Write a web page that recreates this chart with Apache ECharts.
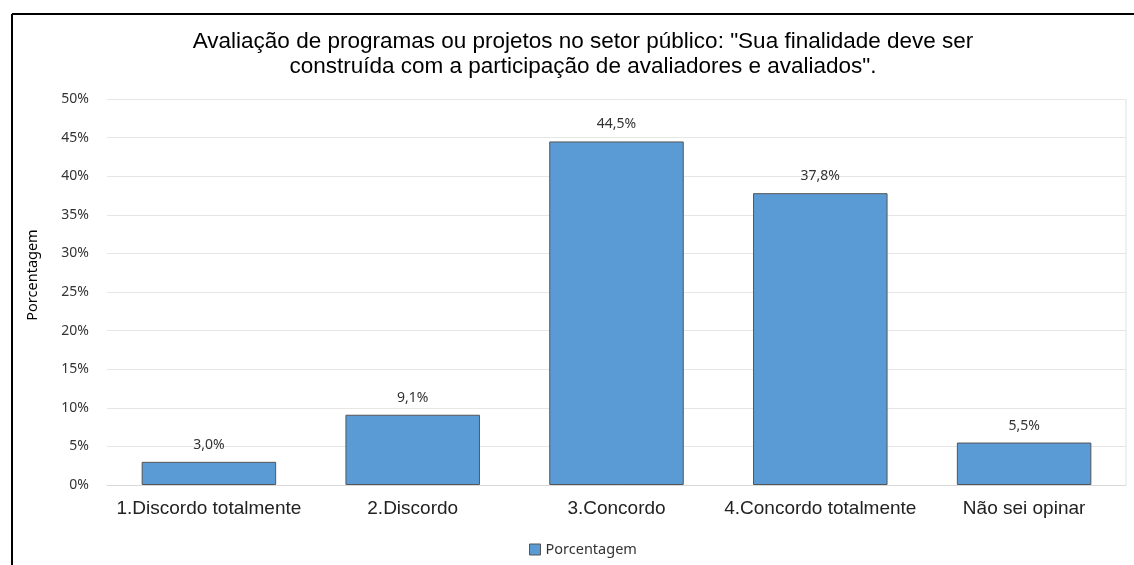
<!DOCTYPE html>
<html><head><meta charset="utf-8">
<script src="https://cdn.jsdelivr.net/npm/echarts@6/dist/echarts.min.js"></script>
<style>html,body{margin:0;padding:0;background:#fff}#c{width:1134px;height:565px}</style>
</head><body><div id="c"></div>
<script>
const categories = ['1.Discordo totalmente','2.Discordo','3.Concordo','4.Concordo totalmente','Não sei opinar'];
const values = [3.0, 9.1, 44.5, 37.8, 5.5];
const yTicks = [0,5,10,15,20,25,30,35,40,45,50];
const seriesName = 'Porcentagem';
const titleText = 'Avaliação de programas ou projetos no setor público: "Sua finalidade deve ser\nconstruída com a participação de avaliadores e avaliados".';

const chart = echarts.init(document.getElementById('c'));
chart.setOption({
  animation:false,
  title:{text:titleText,left:578,top:24,textAlign:'center',
    textStyle:{fontFamily:'Liberation Sans',fontSize:22.5,fontWeight:'normal',color:'#000',lineHeight:25}},
  graphic:[
    {type:'line',shape:{x1:12,y1:14,x2:1134,y2:14},style:{stroke:'#000',lineWidth:2}},
    {type:'line',shape:{x1:12,y1:14,x2:12,y2:565},style:{stroke:'#000',lineWidth:2}},
    {type:'line',shape:{x1:1126,y1:99,x2:1126,y2:485},style:{stroke:'#e0e0e0',lineWidth:1}},
    {type:'text',x:33,y:275,rotation:Math.PI/2,
      style:{text:'Porcentagem',fontFamily:'Noto Sans',fontSize:14.5,fill:'#000',textAlign:'center',textVerticalAlign:'middle'}}
  ],
  legend:{data:[{name:seriesName,icon:'rect'}],left:524,top:537,itemWidth:11,itemHeight:11,itemGap:4,
    itemStyle:{borderColor:'#555',borderWidth:1},
    textStyle:{fontFamily:'Noto Sans',fontSize:14.5,color:'#333'}},
  grid:{left:107,right:8,top:99,bottom:80},
  xAxis:{type:'category',data:categories,
    axisLine:{lineStyle:{color:'#d9d9d9'}},axisTick:{show:false},
    axisLabel:{interval:0,fontFamily:'Liberation Sans',fontSize:19,color:'#222',margin:14}},
  yAxis:{type:'value',min:0,max:50,interval:5,
    axisLabel:{formatter:v=>yTicks.includes(v)?v+'%':'',fontFamily:'Noto Sans',fontSize:14,color:'#333',margin:18},
    splitLine:{lineStyle:{color:'#e6e6e6'}},axisLine:{show:false},axisTick:{show:false}},
  series:[{name:seriesName,type:'bar',data:values,barCategoryGap:'34%',
    itemStyle:{color:'#5B9BD5',borderColor:'#555',borderWidth:1},
    label:{show:true,position:'top',distance:10,formatter:p=>p.value.toFixed(1).replace('.',',')+'%',
      fontFamily:'Noto Sans',fontSize:14,color:'#333'}}]
});
</script></body></html>
